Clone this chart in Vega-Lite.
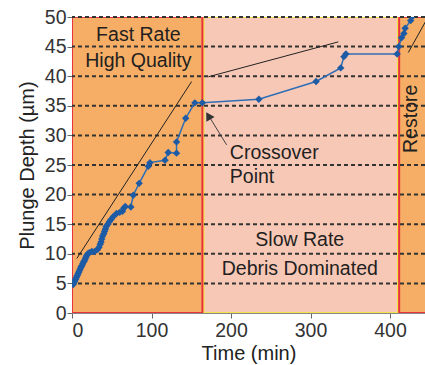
{
  "$schema": "https://vega.github.io/schema/vega-lite/v6.json",
  "width": 353,
  "height": 296,
  "autosize": {"type": "none"},
  "padding": {"left": 72, "top": 17, "right": 0, "bottom": 52},
  "background": "white",
  "config": {
    "view": {"stroke": null},
    "font": "Liberation Sans",
    "axis": {
      "labelFont": "Liberation Sans",
      "titleFont": "Liberation Sans",
      "labelFontSize": 19.5,
      "titleFontSize": 20,
      "labelColor": "#333333",
      "titleColor": "#222222",
      "titleFontWeight": "normal",
      "domainColor": "#888888",
      "tickColor": "#666666",
      "tickSize": 5,
      "grid": false
    }
  },
  "datasets": {
    "regions": [
      {"phase": "Slow", "x": 165.5, "x2": 410},
      {"phase": "Fast", "x": 0, "x2": 164},
      {"phase": "Restore", "x": 411.5, "x2": 470}
    ],
    "grid": [
      {"y": 5}, {"y": 10}, {"y": 15}, {"y": 20}, {"y": 25},
      {"y": 30}, {"y": 35}, {"y": 40}, {"y": 45}, {"y": 50}
    ],
    "trends": [
      {"x": 6, "y": 9.2, "x2": 150.5, "y2": 39.1},
      {"x": 171.5, "y": 39.9, "x2": 335, "y2": 45.8},
      {"x": 423, "y": 44, "x2": 452, "y2": 51}
    ],
    "depth": [
      {"t": 1.5, "d": 4.8}, {"t": 2.5, "d": 5.1}, {"t": 3.5, "d": 5.4},
      {"t": 4.5, "d": 5.7}, {"t": 5.5, "d": 6.0}, {"t": 6.5, "d": 6.3},
      {"t": 7.5, "d": 6.6}, {"t": 8.5, "d": 6.9}, {"t": 9.5, "d": 7.2},
      {"t": 10.5, "d": 7.5}, {"t": 11.5, "d": 7.8}, {"t": 12.5, "d": 8.0},
      {"t": 13.5, "d": 8.3}, {"t": 14.5, "d": 8.6}, {"t": 15.5, "d": 8.8},
      {"t": 16.5, "d": 9.1}, {"t": 17.5, "d": 9.4}, {"t": 18.5, "d": 9.7},
      {"t": 20, "d": 10.0}, {"t": 22, "d": 10.2}, {"t": 25, "d": 10.4},
      {"t": 28.5, "d": 10.4}, {"t": 32, "d": 10.7}, {"t": 34, "d": 11.1},
      {"t": 35.5, "d": 11.6}, {"t": 36.5, "d": 12.0}, {"t": 37.5, "d": 12.5},
      {"t": 38.5, "d": 13.0}, {"t": 40, "d": 13.4}, {"t": 41, "d": 13.8},
      {"t": 42, "d": 14.2}, {"t": 43, "d": 14.6}, {"t": 45, "d": 15.0},
      {"t": 47, "d": 15.4}, {"t": 49, "d": 15.8}, {"t": 52, "d": 16.3},
      {"t": 56, "d": 16.8}, {"t": 60, "d": 17.0}, {"t": 63.5, "d": 17.2},
      {"t": 65, "d": 17.7}, {"t": 67, "d": 18.0}, {"t": 74, "d": 17.9},
      {"t": 77, "d": 19.9}, {"t": 84.5, "d": 21.9}, {"t": 96, "d": 24.8},
      {"t": 98, "d": 25.4}, {"t": 117, "d": 25.8}, {"t": 121, "d": 27.1},
      {"t": 131.5, "d": 27.0}, {"t": 131.5, "d": 28.9}, {"t": 143, "d": 32.9},
      {"t": 154.5, "d": 35.5}, {"t": 164, "d": 35.5}, {"t": 235, "d": 36.1},
      {"t": 307, "d": 39.1}, {"t": 338, "d": 41.4}, {"t": 342, "d": 43.3},
      {"t": 344.5, "d": 43.75}, {"t": 409, "d": 43.75}, {"t": 411, "d": 45.0},
      {"t": 414.5, "d": 46.5}, {"t": 417.5, "d": 47.2}, {"t": 419, "d": 48.1},
      {"t": 426, "d": 49.4}, {"t": 429, "d": 50.2}
    ],
    "labels": [
      {"text": "Fast Rate", "x": 83.5, "y": 47.0},
      {"text": "High Quality", "x": 83.5, "y": 42.5},
      {"text": "Slow Rate", "x": 286.5, "y": 12.3},
      {"text": "Debris Dominated", "x": 286.5, "y": 7.4}
    ],
    "leftlabels": [
      {"text": "Crossover", "x": 198.5, "y": 27.0},
      {"text": "Point", "x": 198.5, "y": 23.0}
    ],
    "vlabels": [
      {"text": "Restore", "x": 427, "y": 32.8}
    ],
    "arrow": [
      {"x": 194.5, "y": 28.4, "x2": 172, "y2": 33.3}
    ],
    "arrowhead": [
      {"x": 171.5, "y": 33.3}
    ]
  },
  "encoding": {
    "x": {"type": "quantitative", "scale": {"domain": [0, 444], "nice": false, "zero": false},
      "axis": {"values": [0, 100, 200, 300, 400], "title": "Time (min)", "titlePadding": 4, "labelPadding": 3, "labelOverlap": false}},
    "y": {"type": "quantitative", "scale": {"domain": [0, 50], "nice": false},
      "axis": {"values": [0, 5, 10, 15, 20, 25, 30, 35, 40, 45, 50], "title": "Plunge Depth (µm)", "titlePadding": 7, "labelPadding": 1, "labelOverlap": false, "labelSeparation": 0, "labelBound": false}}
  },
  "layer": [
    {
      "data": {"name": "regions"},
      "mark": {"type": "rect", "strokeWidth": 2, "clip": true},
      "encoding": {
        "x": {"field": "x", "type": "quantitative"},
        "x2": {"field": "x2"},
        "y": {"datum": 0, "type": "quantitative"},
        "y2": {"datum": 50},
        "fill": {"field": "phase", "type": "nominal", "legend": null,
          "scale": {"domain": ["Fast", "Slow", "Restore"], "range": ["#F6AE66", "#F8C8B7", "#F6AE66"]}},
        "stroke": {"field": "phase", "type": "nominal", "legend": null,
          "scale": {"domain": ["Fast", "Slow", "Restore"], "range": ["#E8333C", "#F3E24A", "#E8333C"]}}
      }
    },
    {
      "data": {"name": "grid"},
      "mark": {"type": "rule", "color": "#333333", "strokeWidth": 2, "strokeDash": [4, 3]},
      "encoding": {
        "x": null,
        "y": {"field": "y", "type": "quantitative"}
      }
    },
    {
      "data": {"name": "trends"},
      "mark": {"type": "rule", "color": "#222222", "strokeWidth": 1, "clip": true},
      "encoding": {
        "x": {"field": "x", "type": "quantitative"},
        "y": {"field": "y", "type": "quantitative"},
        "x2": {"field": "x2"},
        "y2": {"field": "y2"}
      }
    },
    {
      "data": {"name": "depth"},
      "mark": {"type": "line", "color": "#2E6EB5", "strokeWidth": 1.5, "clip": true},
      "encoding": {
        "x": {"field": "t", "type": "quantitative"},
        "y": {"field": "d", "type": "quantitative"},
        "order": {"value": null}
      }
    },
    {
      "data": {"name": "depth"},
      "mark": {"type": "point", "shape": "diamond", "filled": true, "size": 55, "color": "#1D5BA5", "opacity": 1, "clip": true},
      "encoding": {
        "x": {"field": "t", "type": "quantitative"},
        "y": {"field": "d", "type": "quantitative"}
      }
    },
    {
      "data": {"name": "labels"},
      "mark": {"type": "text", "fontSize": 19.5, "color": "#231F20", "baseline": "middle", "align": "center", "font": "Liberation Sans"},
      "encoding": {
        "x": {"field": "x", "type": "quantitative"},
        "y": {"field": "y", "type": "quantitative"},
        "text": {"field": "text"}
      }
    },
    {
      "data": {"name": "leftlabels"},
      "mark": {"type": "text", "fontSize": 19.5, "color": "#231F20", "baseline": "middle", "align": "left", "font": "Liberation Sans"},
      "encoding": {
        "x": {"field": "x", "type": "quantitative"},
        "y": {"field": "y", "type": "quantitative"},
        "text": {"field": "text"}
      }
    },
    {
      "data": {"name": "vlabels"},
      "mark": {"type": "text", "fontSize": 19.5, "color": "#231F20", "baseline": "middle", "align": "center", "angle": 270, "font": "Liberation Sans"},
      "encoding": {
        "x": {"field": "x", "type": "quantitative"},
        "y": {"field": "y", "type": "quantitative"},
        "text": {"field": "text"}
      }
    },
    {
      "data": {"name": "arrow"},
      "mark": {"type": "rule", "color": "#444444", "strokeWidth": 1},
      "encoding": {
        "x": {"field": "x", "type": "quantitative"},
        "y": {"field": "y", "type": "quantitative"},
        "x2": {"field": "x2"},
        "y2": {"field": "y2"}
      }
    },
    {
      "data": {"name": "arrowhead"},
      "mark": {"type": "point", "shape": "triangle-up", "filled": true, "size": 90, "color": "#333333", "opacity": 1, "angle": 329},
      "encoding": {
        "x": {"field": "x", "type": "quantitative"},
        "y": {"field": "y", "type": "quantitative"}
      }
    }
  ]
}
